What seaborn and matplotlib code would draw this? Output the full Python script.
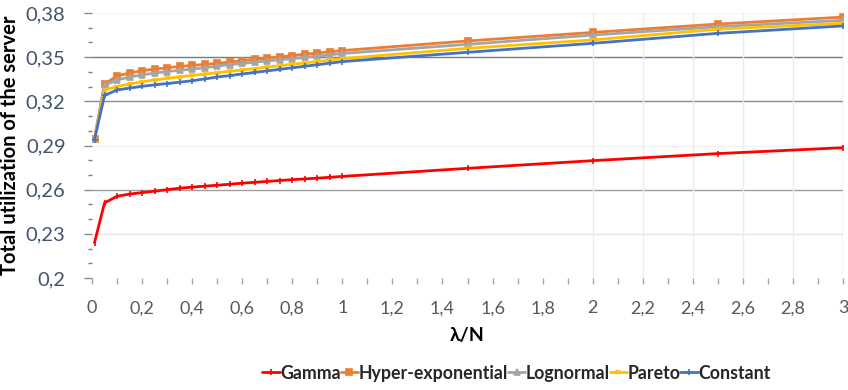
import matplotlib
matplotlib.use("Agg")
import matplotlib.pyplot as plt
import seaborn as sns
import pandas as pd
from matplotlib.ticker import MultipleLocator, FixedLocator

x_vals = [0.01, 0.05, 0.1, 0.15, 0.2, 0.25, 0.3, 0.35, 0.4, 0.45, 0.5,
          0.55, 0.6, 0.65, 0.7, 0.75, 0.8, 0.85, 0.9, 0.95, 1.0,
          1.5, 2.0, 2.5, 3.0]

gamma = [0.224, 0.251, 0.2555, 0.257, 0.258, 0.259, 0.260, 0.261, 0.2617, 0.2624, 0.263,
         0.2637, 0.2644, 0.265, 0.2656, 0.2662, 0.2668, 0.2673, 0.2678, 0.2684, 0.269,
         0.2745, 0.2797, 0.2845, 0.2885]
hyper = [0.2944, 0.3318, 0.3372, 0.3392, 0.3408, 0.3419, 0.3428, 0.3437, 0.3444, 0.3451, 0.3458,
         0.3467, 0.3476, 0.3485, 0.3494, 0.3502, 0.3511, 0.3520, 0.3528, 0.3537, 0.3545,
         0.3610, 0.3668, 0.3725, 0.3772]
lognormal = [0.2944, 0.3310, 0.3345, 0.3365, 0.3380, 0.3392, 0.3402, 0.3411, 0.3419, 0.3427, 0.3440,
             0.3449, 0.3458, 0.3466, 0.3474, 0.3482, 0.3490, 0.3499, 0.3507, 0.3516, 0.3525,
             0.3587, 0.3650, 0.3707, 0.3750]
pareto = [0.2944, 0.3277, 0.3300, 0.3318, 0.3333, 0.3345, 0.3356, 0.3366, 0.3376, 0.3385, 0.3394,
          0.3404, 0.3413, 0.3423, 0.3432, 0.3442, 0.3452, 0.3461, 0.3471, 0.3480, 0.3490,
          0.3560, 0.3617, 0.3690, 0.3730]
constant = [0.2940, 0.3240, 0.3277, 0.3290, 0.3302, 0.3312, 0.3321, 0.3330, 0.3340, 0.3352, 0.3365,
            0.3375, 0.3386, 0.3396, 0.3407, 0.3417, 0.3428, 0.3438, 0.3449, 0.3459, 0.3470,
            0.3533, 0.3594, 0.3662, 0.3712]

series_names = ["Gamma", "Hyper-exponential", "Lognormal", "Pareto", "Constant"]
series_values = [gamma, hyper, lognormal, pareto, constant]
colors = ["#FF0000", "#ED7D31", "#A5A5A5", "#FFC000", "#4472C4"]
markers = ["|", "s", "^", "x", "+"]
msizes = [4, 4.5, 4, 3.5, 4]

y_ticks = [0.2, 0.23, 0.26, 0.29, 0.32, 0.35, 0.38]
y_tick_labels = ["0,2", "0,23", "0,26", "0,29", "0,32", "0,35", "0,38"]
x_ticks = [0, 0.2, 0.4, 0.6, 0.8, 1, 1.2, 1.4, 1.6, 1.8, 2, 2.2, 2.4, 2.6, 2.8, 3]
x_tick_labels = ["0", "0,2", "0,4", "0,6", "0,8", "1", "1,2", "1,4", "1,6", "1,8",
                 "2", "2,2", "2,4", "2,6", "2,8", "3"]

sns.set_theme(style="white")
plt.rcParams["font.family"] = ["Lato", "DejaVu Sans"]

fig = plt.figure(figsize=(8.48, 3.90), dpi=100)
ax = fig.add_axes([92 / 848, 1 - 278 / 390, (843 - 92) / 848, (278 - 13) / 390])

# gridlines (as they appear in the reference)
grid_cols = {0.23: "#E4E4E4", 0.26: "#A0A0A0", 0.29: "#F4F4F4", 0.32: "#8C8C8C",
             0.35: "#7A7A7A", 0.38: "#F6F6F6"}
for yv, c in grid_cols.items():
    ax.axhline(yv, color=c, lw=1.0, zorder=0)
for xv in [2.0, 2.2, 2.4, 2.6, 2.8]:
    ax.axvline(xv, color="#ECECEC", lw=1.0, zorder=0)
ax.axvline(3.0, color="#D0D0D0", lw=1.0, zorder=0)

for name, vals, col, mk, ms in zip(series_names, series_values, colors, markers, msizes):
    df = pd.DataFrame({"x": x_vals, "y": vals})
    sns.lineplot(data=df, x="x", y="y", ax=ax, color=col, lw=2.0, marker=mk,
                 markersize=ms, markeredgecolor=col, markerfacecolor=col,
                 markeredgewidth=1.2, label=name, zorder=3)

ax.set_xlim(0, 3)
ax.set_ylim(0.2, 0.38)
for s in ax.spines.values():
    s.set_visible(False)

ax.yaxis.set_major_locator(FixedLocator(y_ticks))
ax.set_yticklabels(y_tick_labels)
ax.yaxis.set_minor_locator(FixedLocator([0.21, 0.22, 0.24, 0.25, 0.27, 0.28, 0.30, 0.31,
                                         0.33, 0.34, 0.36, 0.37]))
ax.xaxis.set_major_locator(FixedLocator(x_ticks))
ax.set_xticklabels(x_tick_labels)
ax.xaxis.set_minor_locator(MultipleLocator(0.1))

ax.tick_params(axis="y", which="major", left=True, length=6, width=1, color="#8C8C8C",
               labelsize=14.5, labelcolor="#44546A", pad=13)
ax.tick_params(axis="y", which="minor", left=True, length=3, width=1, color="#7F7F7F")
ax.tick_params(axis="x", which="both", bottom=True, length=4, width=1, color="#A6A6A6",
               direction="out", labelsize=13, labelcolor="#595959", pad=12)

ax.set_xlabel("λ/N", fontsize=14, fontweight="bold", color="black", labelpad=8,
              family=["Lato", "DejaVu Sans"])
ax.set_ylabel("Total utilization of the server", fontsize=14.5, fontweight="bold",
              color="black", labelpad=4)

ax.legend(loc="upper center", bbox_to_anchor=(0.565, -0.30), ncol=5, frameon=False,
          handlelength=1.0, handletextpad=0.0, columnspacing=0.0,
          borderaxespad=0.0, prop={"weight": "bold", "size": 12.8})

fig.savefig("out.png", dpi=100)
